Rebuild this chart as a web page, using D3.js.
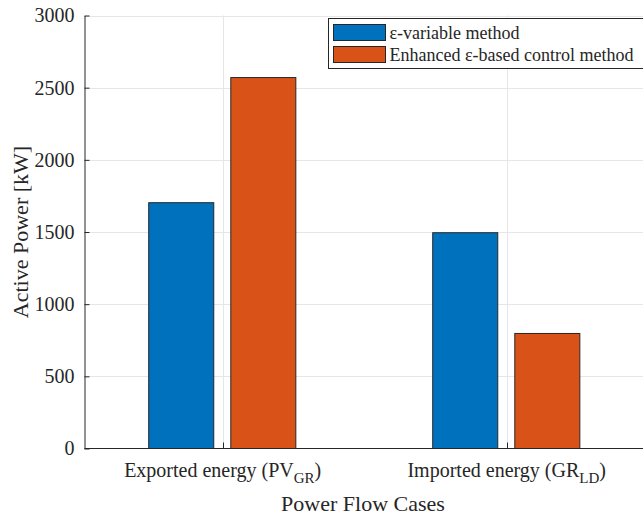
<!DOCTYPE html>
<html lang="en">
<head>
<meta charset="UTF-8">
<title>Power Flow Cases</title>
<script src="https://d3js.org/d3.v7.min.js"></script>
<style>
    body { margin: 0; background: #fff; }
    text { font-family: "Liberation Serif", "Times New Roman", serif; fill: #262626; }
</style>
</head>
<body>
<div id="chart"></div>
<script>
// data
var categories = ["Exported energy", "Imported energy"];
var catMain = ["Exported energy (PV", "Imported energy (GR"];
var catSub = ["GR", "LD"];
var series = ["\u03b5-variable method", "Enhanced \u03b5-based control method"];
var epsVariable = [1703, 1495];
var enhancedEps = [2570, 797];
var yTicks = [0, 500, 1000, 1500, 2000, 2500, 3000];

var colors = ["#0072BD", "#D95319"];
var values = [epsVariable, enhancedEps];

var width = 643, height = 518;
var plotLeft = 84.5, plotRight = 643, plotTop = 15.5, plotBottom = 448.5;

var svg = d3.select("#chart").append("svg")
    .attr("width", width)
    .attr("height", height);

// category index -> pixel (index 0 at 222.7, index 1 at 506.7)
var x = d3.scaleLinear().domain([0, 1]).range([222.7, 506.7]);
var y = d3.scaleLinear().domain([0, 3000]).range([plotBottom, plotTop]);

var barW = x(0.229) - x(0);
var offsets = [-0.146, 0.143];

// grid
svg.append("g").selectAll("line")
    .data(yTicks.filter(function(d) { return d > 0; }))
    .enter().append("line")
    .attr("x1", plotLeft).attr("x2", plotRight)
    .attr("y1", function(d) { return Math.round(y(d)) + 0.5; })
    .attr("y2", function(d) { return Math.round(y(d)) + 0.5; })
    .attr("stroke", "#e6e6e6").attr("stroke-width", 1);

svg.append("g").selectAll("line")
    .data(categories)
    .enter().append("line")
    .attr("x1", function(d, i) { return Math.round(x(i)) + 0.5; })
    .attr("x2", function(d, i) { return Math.round(x(i)) + 0.5; })
    .attr("y1", plotTop).attr("y2", plotBottom)
    .attr("stroke", "#e6e6e6").attr("stroke-width", 1);

// bars
values.forEach(function(vals, s) {
    svg.append("g").selectAll("rect")
        .data(vals)
        .enter().append("rect")
        .attr("x", function(d, i) { return x(i + offsets[s]) - barW / 2; })
        .attr("y", function(d) { return y(d); })
        .attr("width", barW)
        .attr("height", function(d) { return y(0) - y(d); })
        .attr("fill", colors[s])
        .attr("stroke", "#262626")
        .attr("stroke-width", 1);
});

// y axis
var yAxis = d3.axisLeft(y).tickValues(yTicks).tickFormat(d3.format("d"))
    .tickSizeInner(-5).tickSizeOuter(0).tickPadding(10);
var ya = svg.append("g").attr("transform", "translate(" + plotLeft + ",0)").call(yAxis)
    .attr("font-family", "'Liberation Serif', serif").attr("font-size", 20);
ya.select(".domain").attr("stroke", "#262626");
ya.selectAll(".tick line").attr("stroke", "#262626");
ya.selectAll(".tick text").attr("fill", "#262626");

// x axis line + ticks
svg.append("line")
    .attr("x1", plotLeft).attr("x2", plotRight)
    .attr("y1", plotBottom).attr("y2", plotBottom)
    .attr("stroke", "#262626");
svg.append("g").selectAll("line")
    .data(categories)
    .enter().append("line")
    .attr("x1", function(d, i) { return Math.round(x(i)) + 0.5; })
    .attr("x2", function(d, i) { return Math.round(x(i)) + 0.5; })
    .attr("y1", plotBottom).attr("y2", plotBottom - 6)
    .attr("stroke", "#262626");

// category labels with subscripts
var cl = svg.append("g").selectAll("text")
    .data(categories)
    .enter().append("text")
    .attr("x", function(d, i) { return x(i); })
    .attr("y", 477)
    .attr("text-anchor", "middle")
    .attr("font-size", 20);
cl.append("tspan").text(function(d, i) { return catMain[i]; });
cl.append("tspan").attr("dy", 6).attr("font-size", 15).text(function(d, i) { return catSub[i]; });
cl.append("tspan").attr("dy", -6).text(")");

// axis titles
svg.append("text")
    .attr("x", 363).attr("y", 511)
    .attr("text-anchor", "middle")
    .attr("font-size", 22)
    .text("Power Flow Cases");

svg.append("text")
    .attr("transform", "translate(28," + (plotTop + plotBottom) / 2 + ") rotate(-90)")
    .attr("text-anchor", "middle")
    .attr("font-size", 22)
    .text("Active Power [kW]");

// legend
var lg = svg.append("g").attr("transform", "translate(328.5,18.5)");
lg.append("rect")
    .attr("width", 320).attr("height", 50)
    .attr("fill", "#fff").attr("stroke", "#262626").attr("stroke-width", 1);
var li = lg.selectAll("g")
    .data(series)
    .enter().append("g")
    .attr("transform", function(d, i) { return "translate(5," + (6 + i * 22) + ")"; });
li.append("rect")
    .attr("width", 52).attr("height", 16)
    .attr("fill", function(d, i) { return colors[i]; })
    .attr("stroke", "#262626");
li.append("text")
    .attr("x", 56).attr("y", 14)
    .attr("font-size", 18)
    .attr("fill", "#000")
    .text(function(d) { return d; });
</script>
</body>
</html>
